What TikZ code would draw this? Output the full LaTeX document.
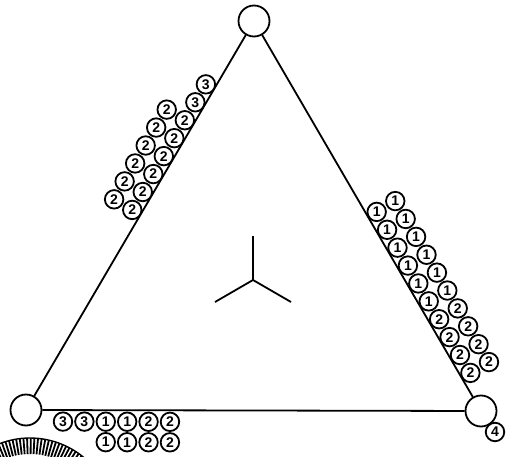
\documentclass[tikz,border=0pt]{standalone}
\usepackage{fontspec}
\setsansfont{Liberation Sans}
\usetikzlibrary{calc}

\begin{document}
\begin{tikzpicture}[x=1pt, y=-1pt,
  vertex/.style={draw, circle, line width=1.8pt, minimum size=31pt, inner sep=0pt},
  ball/.style={draw, circle, fill=white, line width=1.8pt, minimum size=18.5pt, inner sep=0pt, font=\sffamily\bfseries\fontsize{14}{14}\selectfont},
  edge/.style={line width=1.8pt},
  hatch/.style={line width=1.8pt}]
  \useasboundingbox (0,0) rectangle (508,457);
  % corners of the triangle
  \node[vertex] (top) at (254,21) {};
  \node[vertex] (bl) at (26,410) {};
  \node[vertex] (br) at (481,411) {};
  \node[ball] (four) at (495,432) {4};
  \draw[edge] (top) -- (bl);
  \draw[edge] (top) -- (br);
  \draw[edge] (bl) -- (br);
  % centre mark
  \coordinate (hub) at (253,280);
  \coordinate (armup) at (253,236);
  \coordinate (armleft) at (215,302);
  \coordinate (armright) at (291,302);
  \draw[edge] (armup) -- (hub) -- (armleft);
  \draw[edge] (hub) -- (armright);
  % left side
  \foreach \lab [count=\k from 0] in {3,3,2,2,2,2,2,2} {
    \pgfmathsetmacro{\s}{79+20.8*\k}
    \node[ball] (li\k) at ($(top)!\s pt!(bl)!9.5pt!270:(bl)$) {\lab};
  }
  \foreach \k in {2,...,7} {
    \pgfmathsetmacro{\s}{79+20.8*\k}
    \node[ball] (lo\k) at ($(top)!\s pt!(bl)!30.5pt!270:(bl)$) {2};
  }
  % right side
  \foreach \lab [count=\k from 0] in {1,1,1,1,1,1,2,2,2,2} {
    \pgfmathsetmacro{\s}{226.7+20.7*\k}
    \node[ball] (ri\k) at ($(top)!\s pt!(br)!10pt!90:(br)$) {\lab};
    \node[ball] (ro\k) at ($(top)!\s pt!(br)!31.5pt!90:(br)$) {\lab};
  }
  % bottom side
  \foreach \lab [count=\k from 0] in {3,3,1,1,2,2} {
    \pgfmathsetmacro{\s}{37+21.4*\k}
    \node[ball] (ba\k) at ($(bl)!\s pt!(br)!11.5pt!270:(br)$) {\lab};
  }
  \foreach \lab [count=\k from 2] in {1,1,2,2} {
    \pgfmathsetmacro{\s}{37+21.4*\k}
    \node[ball] (bb\k) at ($(bl)!\s pt!(br)!32pt!270:(br)$) {\lab};
  }
  % cut-off ring, lower left
  \begin{scope}
    \clip (0,0) rectangle (508,457);
    \coordinate (ring) at (30,522);
    \foreach \a in {-132,-129.5,...,-42}
      \draw[hatch] ($(ring)+({68*cos(\a)},{68*sin(\a)})$) -- ($(ring)+({84*cos(\a)},{84*sin(\a)})$);
    \draw[line width=1.4pt] ($(ring)+({84*cos(-132)},{84*sin(-132)})$) arc[start angle=-132, end angle=-42, radius=84];
  \end{scope}
\end{tikzpicture}
\end{document}
